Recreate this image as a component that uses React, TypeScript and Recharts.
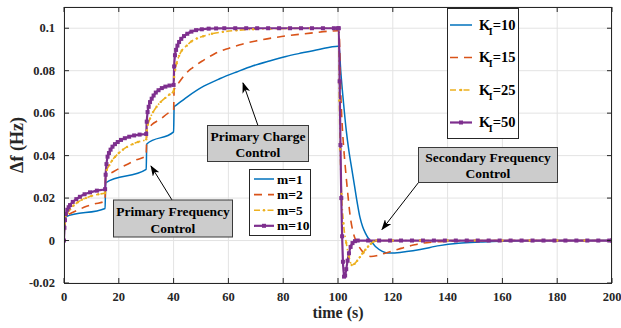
import React from "react";
import { LineChart, Line, XAxis, YAxis, CartesianGrid } from "recharts";

const CHART_W = 621;
const CHART_H = 328;
const PLOT_LEFT = 64;
const PLOT_RIGHT = 612;
const PLOT_TOP = 7;
const PLOT_BOTTOM = 283;

const xTicks = [0, 20, 40, 60, 80, 100, 120, 140, 160, 180, 200];
const yTicks = [-0.02, 0, 0.02, 0.04, 0.06, 0.08, 0.1];

// K_I = 10 (m = 1)
const k10Time = [0, 0.3, 0.6, 15, 15.2, 30, 30.2, 40, 40.2, 41, 45, 51, 57, 63, 69, 75, 81, 87, 93, 100,
  100.4, 101, 102, 103, 104, 105, 106, 107, 108, 109, 110, 111, 112, 113, 114,
  116, 118, 120, 125, 130, 137, 144, 152, 159, 170, 185, 200];
const k10Df = [0, 0.008, 0.0112, 0.0151, 0.0272, 0.0335, 0.0455, 0.0512, 0.063, 0.0638, 0.0677, 0.0727, 0.0763, 0.0794, 0.0823, 0.0846, 0.0867, 0.0884, 0.09, 0.0915,
  0.091, 0.08, 0.065, 0.052, 0.042, 0.034, 0.026, 0.018, 0.011, 0.0065, 0.0035, 0.0012, -0.0003, -0.0018, -0.0032,
  -0.005, -0.0059, -0.0059, -0.0052, -0.0042, -0.0024, -0.0013, -0.0007, -0.0003, -0.0001, 0, 0];

// K_I = 15 (m = 2)
const k15Time = [0, 0.3, 0.6, 2, 5, 8, 11, 15, 15.2, 18, 22, 26, 30, 30.2, 32, 35, 38, 40,
  40.2, 42, 44, 47, 51, 55, 60, 65, 70, 80, 90, 100,
  100.4, 101, 101.5, 102, 102.6, 103.5, 104.4, 105.5, 106.5, 107.5, 108.5, 110, 112, 114, 116, 119, 122, 125, 128, 131, 135, 140, 150, 160, 200];
const k15Df = [0, 0.008, 0.0112, 0.0125, 0.0143, 0.016, 0.0172, 0.0186, 0.03, 0.0324, 0.0352, 0.0378, 0.04, 0.051, 0.0545, 0.057, 0.06, 0.0615,
  0.071, 0.0745, 0.078, 0.0815, 0.085, 0.088, 0.0905, 0.0925, 0.094, 0.0962, 0.0977, 0.0988,
  0.098, 0.07, 0.055, 0.045, 0.0355, 0.023, 0.012, 0.004, 0, -0.0025, -0.0045, -0.0065, -0.0075, -0.0072, -0.0064, -0.0053, -0.0041, -0.0029, -0.002, -0.0012, -0.0007, -0.0004, -0.0001, 0, 0];

// K_I = 25 (m = 5)
const k25Time = [0, 0.3, 0.6, 1.2, 2.2, 3.5, 5, 6.5, 8, 10, 12.5, 15,
  15.2, 15.6, 16.5, 17.5, 18.6, 20, 21.5, 23, 25, 27, 30,
  30.2, 30.6, 31.4, 32.5, 33.8, 35.3, 37, 38.5, 40,
  40.2, 40.6, 41.1, 42, 43, 44.8, 46.5, 48.5, 50.8, 54, 58, 63, 69, 75, 82, 90, 100,
  100.2, 100.5, 100.8, 101.3, 102, 103, 104, 105, 106, 107, 108, 109, 110, 111, 112, 113, 114,
  120, 130, 140, 150, 160, 170, 180, 190, 200];
const k25Df = [0, 0.008, 0.0115, 0.0128, 0.0147, 0.0165, 0.018, 0.0192, 0.02, 0.021, 0.0218, 0.0224,
  0.031, 0.0332, 0.0355, 0.0376, 0.0394, 0.0412, 0.0428, 0.0441, 0.0454, 0.0464, 0.0477,
  0.052, 0.0545, 0.0575, 0.0605, 0.063, 0.0653, 0.0672, 0.0688, 0.0703,
  0.077, 0.0805, 0.0835, 0.087, 0.0895, 0.0918, 0.0938, 0.0952, 0.0962, 0.0974, 0.0983, 0.099, 0.0995, 0.0997, 0.0999, 0.1, 0.1,
  0.0995, 0.066, 0.043, 0.022, 0.008, -0.001, -0.0075, -0.0115, -0.011, -0.0095, -0.0078, -0.006, -0.0043, -0.0028, -0.0015, -0.0005, 0,
  0, 0, 0, 0, 0, 0, 0, 0, 0];

// K_I = 50 (m = 10)
const k50Time = [0, 0.15, 0.36, 0.7, 1.2, 1.7, 2.2, 3.2, 4.5, 5.8, 7.5, 9.5, 12, 15,
  15.2, 15.5, 15.9, 16.4, 17, 17.7, 18.6, 19.6, 20.8, 22.2, 23.8, 25.6, 27.6, 30,
  30.2, 30.5, 30.9, 31.4, 32, 32.7, 33.5, 34.5, 35.7, 37, 38.5, 40,
  40.2, 40.5, 40.9, 41.4, 42, 42.8, 43.8, 45, 46.5, 48.2, 50.3, 52.8, 55.5, 58.5,
  62.5, 66.5, 70.5, 74.5, 78.5, 82.5, 86.5, 90.5, 94.5, 98.5, 100,
  100.3, 100.6, 100.9, 101.2, 101.5, 101.8, 102.2, 102.6, 103, 103.5, 104, 104.6, 105.3, 106.2, 107.2,
  111, 115, 119, 123, 127, 131, 135, 139, 143, 147, 151, 155, 159, 163, 167, 171, 175, 179, 183, 187, 191, 195, 199, 200];
const k50Df = [0, 0.006, 0.0096, 0.0125, 0.0145, 0.0157, 0.0167, 0.0182, 0.0195, 0.0206, 0.0218, 0.0227, 0.0235, 0.0242,
  0.031, 0.036, 0.0395, 0.0412, 0.0428, 0.0442, 0.0454, 0.0464, 0.0474, 0.0482, 0.0489, 0.0495, 0.0499, 0.0502,
  0.056, 0.0605, 0.063, 0.0652, 0.0668, 0.0683, 0.0697, 0.0708, 0.0718, 0.0725, 0.073, 0.0733,
  0.082, 0.0873, 0.0898, 0.0918, 0.0935, 0.095, 0.0963, 0.0974, 0.0984, 0.0991, 0.0995, 0.0998, 0.0999, 0.1,
  0.1, 0.1, 0.1, 0.1, 0.1, 0.1, 0.1, 0.1, 0.1, 0.1, 0.1,
  0.1, 0.075, 0.045, 0.02, 0.002, -0.01, -0.017, -0.0165, -0.0135, -0.0095, -0.006, -0.003, -0.0012, -0.0003, 0,
  0, 0, 0, 0, 0, 0, 0, 0, 0, 0, 0, 0, 0, 0, 0, 0, 0, 0, 0, 0, 0, 0, 0, 0];

const kLabels = ["10", "15", "25", "50"];
const mLabels = ["m=1", "m=2", "m=5", "m=10"];

const styles = [
  { color: "#0072BD", dash: undefined, width: 1.5, marker: "none" },
  { color: "#D95319", dash: "8 6", width: 1.6, marker: "none" },
  { color: "#EDB120", dash: "6 3 1.5 3", width: 1.6, marker: "dot" },
  { color: "#7E2F8E", dash: undefined, width: 2.2, marker: "square" },
];

const zip = (t: number[], v: number[]) => t.map((x, i) => ({ t: x, df: v[i] }));
const series = [zip(k10Time, k10Df), zip(k15Time, k15Df), zip(k25Time, k25Df), zip(k50Time, k50Df)];

const FONT = "'Liberation Serif', serif";
const AXIS = "#262626";
const txt = (size: number) => ({ fontFamily: FONT, fontWeight: "bold" as const, fontSize: size });

const fmtY = (v: number) => (v === 0 ? "0" : String(Number(v.toFixed(2))));

const XTick = ({ x, payload }: any) => (
  <g>
    <line x1={x} x2={x} y1={PLOT_BOTTOM} y2={PLOT_BOTTOM - 5} stroke={AXIS} />
    <line x1={x} x2={x} y1={PLOT_TOP} y2={PLOT_TOP + 5} stroke={AXIS} />
    <text x={x} y={PLOT_BOTTOM + 18} textAnchor="middle" style={txt(12.5)} fill={AXIS}>
      {payload.value}
    </text>
  </g>
);

const YTick = ({ y, payload }: any) => (
  <g>
    <line x1={PLOT_LEFT} x2={PLOT_LEFT + 5} y1={y} y2={y} stroke={AXIS} />
    <line x1={PLOT_RIGHT} x2={PLOT_RIGHT - 5} y1={y} y2={y} stroke={AXIS} />
    <text x={55} y={y + 4} textAnchor="end" style={txt(12.5)} fill={AXIS}>
      {fmtY(payload.value)}
    </text>
  </g>
);

const markerFor = (kind: string, color: string) => (props: any) => {
  const { cx, cy, index } = props;
  if (cx == null || cy == null) return <g key={index} />;
  if (kind === "square") return <rect key={index} x={cx - 2} y={cy - 2} width={4} height={4} fill={color} />;
  return <circle key={index} cx={cx} cy={cy} r={1.2} fill={color} />;
};

const Sample = ({ x1, x2, y, s }: any) => {
  const mid = (x1 + x2) / 2;
  return (
    <g>
      <line x1={x1} x2={x2} y1={y} y2={y} stroke={s.color} strokeWidth={s.width} strokeDasharray={s.dash} />
      {s.marker === "square" && <rect x={mid - 2} y={y - 2} width={4} height={4} fill={s.color} />}
      {s.marker === "dot" && <circle cx={mid} cy={y} r={1.3} fill={s.color} />}
    </g>
  );
};

const Note = ({ x, y, w, h, lines, baselines }: any) => (
  <g>
    <rect x={x} y={y} width={w} height={h} fill="#cccccc" stroke="#3a3a3a" strokeWidth={1} />
    {lines.map((l: string, i: number) => (
      <text key={l} x={x + w / 2} y={baselines[i]} textAnchor="middle" style={txt(13.5)} fill="#000">
        {l}
      </text>
    ))}
  </g>
);

const Arrow = ({ x1, y1, x2, y2 }: any) => (
  <line x1={x1} y1={y1} x2={x2} y2={y2} stroke="#000" strokeWidth={1} markerEnd="url(#arrowHead)" />
);

const Overlay = () => (
  <svg width={CHART_W} height={CHART_H} style={{ position: "absolute", left: 0, top: 0, pointerEvents: "none" }}>
    <defs>
      <marker id="arrowHead" markerWidth={11} markerHeight={8} refX={10} refY={4} orient="auto" markerUnits="userSpaceOnUse">
        <path d="M0,0 L11,4 L0,8 L3,4 z" fill="#000" />
      </marker>
    </defs>
    <rect x={PLOT_LEFT + 0.5} y={PLOT_TOP + 0.5} width={PLOT_RIGHT - PLOT_LEFT - 1} height={PLOT_BOTTOM - PLOT_TOP} fill="none" stroke={AXIS} strokeWidth={1} />

    <text transform="translate(23,145) rotate(-90)" textAnchor="middle" style={txt(18)} fill={AXIS}>
      Δf (Hz)
    </text>
    <text x={338} y={318} textAnchor="middle" style={txt(16)} fill={AXIS}>
      time (s)
    </text>

    {/* K_I legend */}
    <rect x={447.5} y={8.5} width={71} height={130} fill="#fff" stroke={AXIS} strokeWidth={1} />
    {kLabels.map((k, i) => {
      const y = 25 + i * 32.5;
      return (
        <g key={k}>
          <Sample x1={450} x2={472} y={y} s={styles[i]} />
          <text x={479} y={y + 4.5} style={txt(14.5)} fill="#000">
            K
            <tspan dx={-1.5} dy={5} fontSize={10}>I</tspan>
            <tspan dy={-5}>={k}</tspan>
          </text>
        </g>
      );
    })}

    {/* m legend */}
    <rect x={249.5} y={169.5} width={61} height={66} fill="#fff" stroke={AXIS} strokeWidth={1} />
    {mLabels.map((m, i) => {
      const y = 179 + i * 15.6;
      return (
        <g key={m}>
          <Sample x1={254} x2={274} y={y} s={styles[i]} />
          <text x={277} y={y + 4.5} style={txt(13.5)} fill="#000">
            {m}
          </text>
        </g>
      );
    })}

    <Arrow x1={258} y1={125.7} x2={243} y2={83} />
    <Note x={207.5} y={125.5} w={101} h={36} lines={["Primary Charge", "Control"]} baselines={[141, 157]} />

    <Arrow x1={172} y1={200} x2={151} y2={166} />
    <Note x={113.5} y={200} w={119} h={37} lines={["Primary Frequency", "Control"]} baselines={[216, 232.5]} />

    <Arrow x1={418.5} y1={182.5} x2={382} y2={229.5} />
    <Note x={418.5} y={147.5} w={139} h={35} lines={["Secondary Frequency", "Control"]} baselines={[161.5, 177.5]} />
  </svg>
);

export default function App() {
  return (
    <div style={{ position: "absolute", left: 0, top: 0, width: CHART_W, height: CHART_H, background: "#fff", fontFamily: FONT }}>
      <LineChart width={CHART_W} height={CHART_H} margin={{ top: PLOT_TOP, right: CHART_W - PLOT_RIGHT, bottom: 0, left: 0 }}>
        <CartesianGrid stroke="#e3e3e3" strokeWidth={1} />
        <XAxis
          type="number"
          dataKey="t"
          domain={[0, 200]}
          ticks={xTicks}
          allowDataOverflow
          height={CHART_H - PLOT_BOTTOM}
          axisLine={false}
          tickLine={false}
          tick={<XTick />}
          interval={0}
        />
        <YAxis
          type="number"
          dataKey="df"
          domain={[-0.02, 0.11]}
          ticks={yTicks}
          allowDataOverflow
          width={PLOT_LEFT}
          axisLine={false}
          tickLine={false}
          tick={<YTick />}
          interval={0}
        />
        {series.map((d, i) => {
          const s = styles[i];
          return (
            <Line
              key={i}
              data={d}
              dataKey="df"
              type="monotone"
              stroke={s.color}
              strokeWidth={s.width}
              strokeDasharray={s.dash}
              dot={s.marker === "none" ? false : markerFor(s.marker, s.color)}
              activeDot={false}
              isAnimationActive={false}
            />
          );
        })}
      </LineChart>
      <Overlay />
    </div>
  );
}
